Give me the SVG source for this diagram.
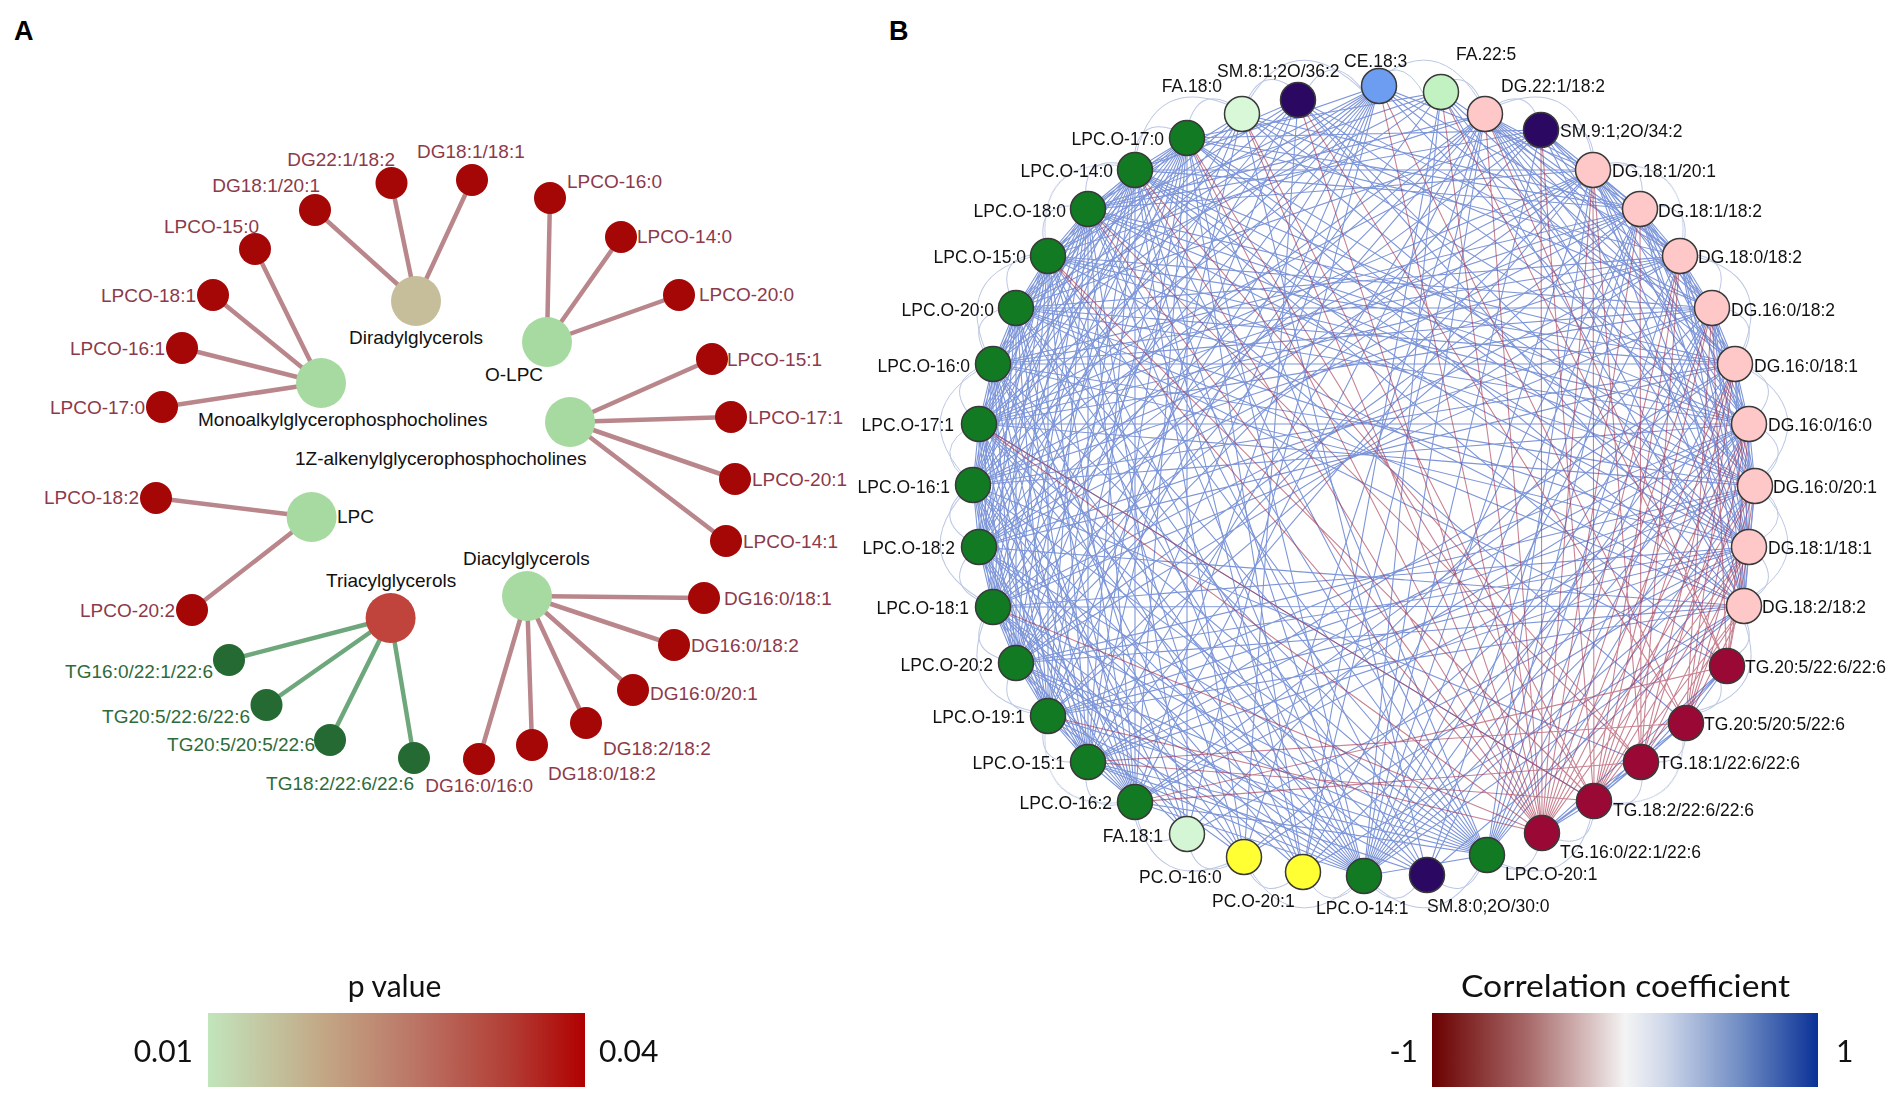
<svg xmlns="http://www.w3.org/2000/svg" xmlns:xlink="http://www.w3.org/1999/xlink" width="1901" height="1105" viewBox="0 0 1901 1105">
<style>
.t{font-family:"Liberation Sans",Arial,sans-serif}
.la{font-size:19px}
.lb{font-size:17.5px;fill:#111}
.lr{fill:#8c3a4a}.lg{fill:#2e6b3a}.lk{fill:#111}
.lead{font-family:Lato,"Open Sans",sans-serif;font-size:30px;fill:#111}
.pan{font-family:"Liberation Sans",Arial,sans-serif;font-size:27px;font-weight:bold;fill:#000}
.hub{fill:#a6daa0}.lf{fill:#a50606}.lt{fill:#256a32}
.ea{stroke:#b9878b;stroke-width:4.5}
.eg{stroke:#6ea77b;stroke-width:4.5}
.eb{stroke:#2f56c2;stroke-width:1.1;opacity:.62}
.er{stroke:#a3304a;stroke-width:1.1;opacity:.6}
.ec{stroke:#8fa2d0;stroke-width:1;opacity:.6}
.nb{stroke:#3a3a3a;stroke-width:1.5}
.g{fill:#117a22}.p{fill:#ffc8c8}.r{fill:#9a0836}.s{fill:#2b0862}.y{fill:#ffff33}
</style>
<defs>
<linearGradient id="gp" x1="0" x2="1" y1="0" y2="0">
<stop offset="0" stop-color="#c2e5bc"/><stop offset="0.3" stop-color="#c3a886"/><stop offset="0.55" stop-color="#bb7565"/><stop offset="0.8" stop-color="#b23d35"/><stop offset="1" stop-color="#b00000"/>
</linearGradient>
<linearGradient id="gc" x1="0" x2="1" y1="0" y2="0">
<stop offset="0" stop-color="#6b0000"/><stop offset="0.25" stop-color="#a86a6a"/><stop offset="0.42" stop-color="#dcc6c6"/><stop offset="0.5" stop-color="#f4f4f4"/><stop offset="0.6" stop-color="#d0d8ea"/><stop offset="0.8" stop-color="#6f8cc4"/><stop offset="1" stop-color="#0a3196"/>
</linearGradient>
<path id="a1" d="M1364 92Q1398.5 45.4 1425.3 96.8"/>
<path id="a2" d="M1364 92Q1437.5 19.8 1485.1 111.2"/>
</defs>
<rect width="1901" height="1105" fill="#fff"/>
<text class="pan" x="14" y="40">A</text>
<text class="pan" x="889" y="40">B</text>

<!-- Panel A connectors -->
<g id="connectors-A">
<path class="ea" d="M321 383L255 249M321 383L213 295M321 383L182 348M321 383L162 407M416 301L315 210M416 301L391.5 183M416 301L472 180M547 342L550 198M547 342L621 237M547 342L679 295M570 422L712 359M570 422L731 417M570 422L735 479M570 422L726 541M311.6 517L156 498M311.6 517L192 610M527 596L704 598M527 596L674 645M527 596L633 690M527 596L586 723M527 596L532 745M527 596L479 759"/>
<path class="eg" d="M390.6 618L229 660M390.6 618L266.5 705M390.6 618L330 740M390.6 618L414 758"/>
</g>

<!-- Panel A nodes -->
<g id="a-diradylglycerols"><circle cx="416" cy="301" r="25" fill="#c6bd9a"/><text class="t la lk" x="416" y="344" text-anchor="middle">Diradylglycerols</text></g>
<g id="a-monoalkyl"><circle class="hub" cx="321" cy="383" r="25"/><text class="t la lk" x="198" y="426">Monoalkylglycerophosphocholines</text></g>
<g id="a-olpc"><circle class="hub" cx="547" cy="342" r="25"/><text class="t la lk" x="485" y="381">O-LPC</text></g>
<g id="a-1z"><circle class="hub" cx="570" cy="422" r="25"/><text class="t la lk" x="295" y="465">1Z-alkenylglycerophosphocholines</text></g>
<g id="a-lpc"><circle class="hub" cx="311.6" cy="517" r="25"/><text class="t la lk" x="337" y="523">LPC</text></g>
<g id="a-triacylglycerols"><circle cx="390.6" cy="618" r="25" fill="#c0443b"/><text class="t la lk" x="326" y="587">Triacylglycerols</text></g>
<g id="a-diacylglycerols"><circle class="hub" cx="527" cy="596" r="25"/><text class="t la lk" x="463" y="565">Diacylglycerols</text></g>

<g id="a-dg18-1-20-1"><circle class="lf" cx="315" cy="210" r="16"/><text class="t la lr" x="320" y="192" text-anchor="end">DG18:1/20:1</text></g>
<g id="a-dg22-1-18-2"><circle class="lf" cx="391.5" cy="183" r="16"/><text class="t la lr" x="395" y="166" text-anchor="end">DG22:1/18:2</text></g>
<g id="a-dg18-1-18-1"><circle class="lf" cx="472" cy="180" r="16"/><text class="t la lr" x="417" y="158">DG18:1/18:1</text></g>
<g id="a-lpco-15-0"><circle class="lf" cx="255" cy="249" r="16"/><text class="t la lr" x="259" y="233" text-anchor="end">LPCO-15:0</text></g>
<g id="a-lpco-18-1"><circle class="lf" cx="213" cy="295" r="16"/><text class="t la lr" x="196" y="302" text-anchor="end">LPCO-18:1</text></g>
<g id="a-lpco-16-1"><circle class="lf" cx="182" cy="348" r="16"/><text class="t la lr" x="165" y="355" text-anchor="end">LPCO-16:1</text></g>
<g id="a-lpco-17-0"><circle class="lf" cx="162" cy="407" r="16"/><text class="t la lr" x="145" y="414" text-anchor="end">LPCO-17:0</text></g>
<g id="a-lpco-16-0"><circle class="lf" cx="550" cy="198" r="16"/><text class="t la lr" x="567" y="188">LPCO-16:0</text></g>
<g id="a-lpco-14-0"><circle class="lf" cx="621" cy="237" r="16"/><text class="t la lr" x="637" y="243">LPCO-14:0</text></g>
<g id="a-lpco-20-0"><circle class="lf" cx="679" cy="295" r="16"/><text class="t la lr" x="699" y="301">LPCO-20:0</text></g>
<g id="a-lpco-15-1"><circle class="lf" cx="712" cy="359" r="16"/><text class="t la lr" x="727" y="366">LPCO-15:1</text></g>
<g id="a-lpco-17-1"><circle class="lf" cx="731" cy="417" r="16"/><text class="t la lr" x="748" y="424">LPCO-17:1</text></g>
<g id="a-lpco-20-1"><circle class="lf" cx="735" cy="479" r="16"/><text class="t la lr" x="752" y="486">LPCO-20:1</text></g>
<g id="a-lpco-14-1"><circle class="lf" cx="726" cy="541" r="16"/><text class="t la lr" x="743" y="548">LPCO-14:1</text></g>
<g id="a-lpco-18-2"><circle class="lf" cx="156" cy="498" r="16"/><text class="t la lr" x="139" y="504" text-anchor="end">LPCO-18:2</text></g>
<g id="a-lpco-20-2"><circle class="lf" cx="192" cy="610" r="16"/><text class="t la lr" x="175" y="617" text-anchor="end">LPCO-20:2</text></g>
<g id="a-tg16-0-22-1-22-6"><circle class="lt" cx="229" cy="660" r="16"/><text class="t la lg" x="213" y="678" text-anchor="end">TG16:0/22:1/22:6</text></g>
<g id="a-tg20-5-22-6-22-6"><circle class="lt" cx="266.5" cy="705" r="16"/><text class="t la lg" x="250" y="723" text-anchor="end">TG20:5/22:6/22:6</text></g>
<g id="a-tg20-5-20-5-22-6"><circle class="lt" cx="330" cy="740" r="16"/><text class="t la lg" x="315" y="751" text-anchor="end">TG20:5/20:5/22:6</text></g>
<g id="a-tg18-2-22-6-22-6"><circle class="lt" cx="414" cy="758" r="16"/><text class="t la lg" x="414" y="790" text-anchor="end">TG18:2/22:6/22:6</text></g>
<g id="a-dg16-0-16-0"><circle class="lf" cx="479" cy="759" r="16"/><text class="t la lr" x="533" y="792" text-anchor="end">DG16:0/16:0</text></g>
<g id="a-dg18-0-18-2"><circle class="lf" cx="532" cy="745" r="16"/><text class="t la lr" x="548" y="780">DG18:0/18:2</text></g>
<g id="a-dg18-2-18-2"><circle class="lf" cx="586" cy="723" r="16"/><text class="t la lr" x="603" y="755">DG18:2/18:2</text></g>
<g id="a-dg16-0-20-1"><circle class="lf" cx="633" cy="690" r="16"/><text class="t la lr" x="650" y="700">DG16:0/20:1</text></g>
<g id="a-dg16-0-18-2"><circle class="lf" cx="674" cy="645" r="16"/><text class="t la lr" x="691" y="652">DG16:0/18:2</text></g>
<g id="a-dg16-0-18-1"><circle class="lf" cx="704" cy="598" r="16"/><text class="t la lr" x="724" y="605">DG16:0/18:1</text></g>

<!-- Panel B connectors -->
<g id="connectors-B" fill="none">
<g class="ec">
<use href="#a1"/><use href="#a1" transform="rotate(9 1364 484)"/><use href="#a1" transform="rotate(18 1364 484)"/><use href="#a1" transform="rotate(27 1364 484)"/><use href="#a1" transform="rotate(36 1364 484)"/><use href="#a1" transform="rotate(45 1364 484)"/><use href="#a1" transform="rotate(54 1364 484)"/><use href="#a1" transform="rotate(63 1364 484)"/><use href="#a1" transform="rotate(72 1364 484)"/><use href="#a1" transform="rotate(81 1364 484)"/><use href="#a1" transform="rotate(90 1364 484)"/><use href="#a1" transform="rotate(99 1364 484)"/><use href="#a1" transform="rotate(108 1364 484)"/><use href="#a1" transform="rotate(117 1364 484)"/><use href="#a1" transform="rotate(126 1364 484)"/><use href="#a1" transform="rotate(135 1364 484)"/><use href="#a1" transform="rotate(144 1364 484)"/><use href="#a1" transform="rotate(153 1364 484)"/><use href="#a1" transform="rotate(162 1364 484)"/><use href="#a1" transform="rotate(171 1364 484)"/><use href="#a1" transform="rotate(180 1364 484)"/><use href="#a1" transform="rotate(189 1364 484)"/><use href="#a1" transform="rotate(198 1364 484)"/><use href="#a1" transform="rotate(207 1364 484)"/><use href="#a1" transform="rotate(216 1364 484)"/><use href="#a1" transform="rotate(225 1364 484)"/><use href="#a1" transform="rotate(234 1364 484)"/><use href="#a1" transform="rotate(243 1364 484)"/><use href="#a1" transform="rotate(252 1364 484)"/><use href="#a1" transform="rotate(261 1364 484)"/><use href="#a1" transform="rotate(270 1364 484)"/><use href="#a1" transform="rotate(279 1364 484)"/><use href="#a1" transform="rotate(288 1364 484)"/><use href="#a1" transform="rotate(297 1364 484)"/><use href="#a1" transform="rotate(306 1364 484)"/><use href="#a1" transform="rotate(315 1364 484)"/><use href="#a1" transform="rotate(324 1364 484)"/><use href="#a1" transform="rotate(333 1364 484)"/><use href="#a1" transform="rotate(342 1364 484)"/><use href="#a1" transform="rotate(351 1364 484)"/>
<use href="#a2"/><use href="#a2" transform="rotate(18 1364 484)"/><use href="#a2" transform="rotate(36 1364 484)"/><use href="#a2" transform="rotate(54 1364 484)"/><use href="#a2" transform="rotate(72 1364 484)"/><use href="#a2" transform="rotate(90 1364 484)"/><use href="#a2" transform="rotate(108 1364 484)"/><use href="#a2" transform="rotate(126 1364 484)"/><use href="#a2" transform="rotate(144 1364 484)"/><use href="#a2" transform="rotate(162 1364 484)"/><use href="#a2" transform="rotate(180 1364 484)"/><use href="#a2" transform="rotate(198 1364 484)"/><use href="#a2" transform="rotate(216 1364 484)"/><use href="#a2" transform="rotate(234 1364 484)"/><use href="#a2" transform="rotate(252 1364 484)"/><use href="#a2" transform="rotate(270 1364 484)"/><use href="#a2" transform="rotate(288 1364 484)"/><use href="#a2" transform="rotate(306 1364 484)"/><use href="#a2" transform="rotate(324 1364 484)"/><use href="#a2" transform="rotate(342 1364 484)"/>
</g>
<g class="eb">
<path d="M1487 855L1364 876L1135 802L1088 762L1048 716L1016 663L993 607L979 547L973 485L979 424L993 364L1016 308L1048 256L1088 209L1135 170L1187 138Z"/>
<path d="M1487 855L1088 762L993 607L979 424L1048 256L1187 138L1135 802L1016 663L973 485L1016 308L1135 170L1364 876L1048 716L979 547L993 364L1088 209Z"/>
<path d="M1487 855L1016 663L993 364L1187 138L1048 716L979 424L1135 170L1088 762L973 485L1088 209L1135 802L979 547L1048 256L1364 876L993 607L1016 308Z"/>
<path d="M1487 855L979 547L1135 170L1016 663L1048 256L1088 762L993 364L1364 876L973 485L1187 138L993 607L1088 209L1048 716L1016 308L1135 802L979 424Z"/>
<path d="M1487 855L1135 802L1048 716L993 607L973 485L993 364L1048 256L1135 170ZM1364 876L1088 762L1016 663L979 547L979 424L1016 308L1088 209L1187 138Z"/>
<path d="M1487 855L993 607L1048 256L1135 802L973 485L1135 170L1048 716L993 364ZM1364 876L979 547L1088 209L1088 762L979 424L1187 138L1016 663L1016 308Z"/>
<path d="M1487 855L1048 716L973 485L1048 256ZM1364 876L1016 663L979 424L1088 209ZM1135 802L993 607L993 364L1135 170ZM1088 762L979 547L1016 308L1187 138Z"/>
<path d="M1487 855L973 485M1364 876L979 424M1135 802L993 364M1088 762L1016 308M1048 716L1048 256M1016 663L1088 209M993 607L1135 170M979 547L1187 138"/>
<path d="M1485 114L1593 170L1640 209L1680 256L1712 308L1735 364L1749 424L1755 486L1749 547L1744 606Z"/>
<path d="M1485 114L1680 256L1749 424L1744 606L1640 209L1735 364L1749 547L1593 170L1712 308L1755 486Z"/>
<path d="M1485 114L1640 209L1712 308L1749 424L1749 547ZM1593 170L1680 256L1735 364L1755 486L1744 606Z"/>
<path d="M1485 114L1712 308L1749 547L1640 209L1749 424ZM1593 170L1735 364L1744 606L1680 256L1755 486Z"/>
<path d="M1485 114L1735 364M1593 170L1749 424M1640 209L1755 486M1680 256L1749 547M1712 308L1744 606"/>
<path d="M1135 802L1485 114L1088 762L1593 170L1048 716L1640 209L1016 663L1680 256L993 607L1712 308L979 547L1735 364L973 485L1749 424L979 424L1755 486L993 364L1749 547L1016 308L1744 606L1048 256L1485 114L1088 209L1593 170L1135 170L1640 209L1187 138L1680 256"/>
<path d="M1135 802L1735 364L1088 762L1749 424L1048 716L1755 486L1016 663L1749 547L993 607L1744 606L979 547L1485 114L973 485L1593 170L979 424L1640 209L993 364L1680 256L1016 308L1712 308L1048 256L1735 364L1088 209L1749 424L1135 170L1755 486L1187 138L1749 547"/>
<path d="M1187 138L1744 606L1135 170L1749 547L1088 209L1755 486L1048 256L1749 424L1016 308L1735 364L993 364L1712 308L979 424L1680 256L973 485L1640 209L979 547L1593 170L993 607L1485 114L1016 663L1744 606L1048 716L1749 547L1088 762L1755 486L1135 802L1749 424"/>
<path d="M1485 114L1364 876L1593 170L1487 855L1640 209L1364 876L1680 256L1487 855L1712 308L1364 876L1735 364L1487 855L1749 424L1364 876L1755 486L1487 855L1749 547L1364 876L1744 606"/>
<path d="M1135 802L1379 86L1048 716L1298 100L993 607L1379 86L973 485L1298 100L993 364L1379 86L1048 256L1298 100L1135 170L1379 86L1088 762L1242 114L1016 663L1379 86L979 547L1242 114L979 424L1379 86L1016 308L1242 114L1088 209"/>
<path d="M1364 876L1441 92L1016 663L1541 130L979 424L1441 92L1088 209L1541 130L1187 138L1441 92L1016 308L1541 130L979 547"/>
<path d="M1593 170L1379 86L1680 256L1441 92L1735 364L1379 86L1755 486L1441 92L1744 606L1298 100L1749 547L1242 114L1749 424L1298 100L1712 308L1242 114L1640 209"/>
<path d="M1541 130L1640 209M1541 130L1712 308M1541 130L1749 424M1541 130L1749 547M1541 130L1680 256"/>
<path d="M1048 716L1244 857L993 607L1303 872L973 485L1244 857L993 364L1303 872L1048 256L1244 857L1135 170L1303 872L1187 138L1187 834L1088 209L1427 875L1016 308L1187 834L979 424L1427 875L979 547L1187 834L1016 663L1427 875L1088 762"/>
<path d="M1427 875L1640 209L1303 872L1749 424L1244 857L1749 547L1187 834L1712 308L1427 875L1744 606L1303 872L1485 114L1244 857"/>
<path d="M1298 100L1244 857M1242 114L1427 875M1441 92L1303 872M1379 86L1187 834M1541 130L1364 876"/>
<path d="M1727 666L1686 723L1641 762L1594 801L1542 833ZM1727 666L1641 762L1542 833L1686 723L1594 801Z"/>
<path d="M1727 666L1016 308M1686 723L1088 209M1641 762L973 485M1727 666L1135 170M1594 801L979 424"/>
</g>
<g class="er">
<path d="M993 607L1542 833L979 424L1594 801L1048 256L1542 833L1088 209L1641 762L1135 170L1542 833L1187 138L1594 801L1242 114L1542 833L1298 100L1686 723L1379 86L1542 833L1441 92L1727 666L1485 114L1542 833L1541 130L1594 801L1593 170L1542 833L1640 209L1641 762L1680 256L1542 833L1712 308L1686 723L1735 364L1542 833L1749 424L1727 666L1755 486L1542 833L1749 547L1594 801L1744 606L1641 762L1749 547L1686 723L1755 486L1594 801L1749 424L1641 762L1735 364L1594 801L1712 308"/>
<path d="M1135 802L1641 762M1088 762L1594 801M1135 802L1727 666M1088 762L1686 723M1048 716L1542 833"/>
<path d="M1749 424L1686 723L1744 606M1727 666L1749 547M1727 666L1712 308M1641 762L1593 170M1594 801L1680 256"/>
</g>
</g>

<!-- Panel B nodes -->
<g id="b-ce-18-3"><circle class="nb" cx="1379" cy="86" r="17.5" fill="#6c9df0"/><text class="t lb" x="1344" y="67">CE.18:3</text></g>
<g id="b-fa-22-5"><circle class="nb" cx="1441" cy="92" r="17.5" fill="#c2f2c2"/><text class="t lb" x="1456" y="60">FA.22:5</text></g>
<g id="b-dg-22-1-18-2"><circle class="nb p" cx="1485" cy="114" r="17.5"/><text class="t lb" x="1501" y="92">DG.22:1/18:2</text></g>
<g id="b-sm-9-1-2o-34-2"><circle class="nb s" cx="1541" cy="130" r="17.5"/><text class="t lb" x="1560" y="137">SM.9:1;2O/34:2</text></g>
<g id="b-dg-18-1-20-1"><circle class="nb p" cx="1593" cy="170" r="17.5"/><text class="t lb" x="1612" y="177">DG.18:1/20:1</text></g>
<g id="b-dg-18-1-18-2"><circle class="nb p" cx="1640" cy="209" r="17.5"/><text class="t lb" x="1658" y="217">DG.18:1/18:2</text></g>
<g id="b-dg-18-0-18-2"><circle class="nb p" cx="1680" cy="256" r="17.5"/><text class="t lb" x="1698" y="263">DG.18:0/18:2</text></g>
<g id="b-dg-16-0-18-2"><circle class="nb p" cx="1712" cy="308" r="17.5"/><text class="t lb" x="1731" y="316">DG.16:0/18:2</text></g>
<g id="b-dg-16-0-18-1"><circle class="nb p" cx="1735" cy="364" r="17.5"/><text class="t lb" x="1754" y="372">DG.16:0/18:1</text></g>
<g id="b-dg-16-0-16-0"><circle class="nb p" cx="1749" cy="424" r="17.5"/><text class="t lb" x="1768" y="431">DG.16:0/16:0</text></g>
<g id="b-dg-16-0-20-1"><circle class="nb p" cx="1755" cy="486" r="17.5"/><text class="t lb" x="1773" y="493">DG.16:0/20:1</text></g>
<g id="b-dg-18-1-18-1"><circle class="nb p" cx="1749" cy="547" r="17.5"/><text class="t lb" x="1768" y="554">DG.18:1/18:1</text></g>
<g id="b-dg-18-2-18-2"><circle class="nb p" cx="1744" cy="606" r="17.5"/><text class="t lb" x="1762" y="613">DG.18:2/18:2</text></g>
<g id="b-tg-20-5-22-6-22-6"><circle class="nb r" cx="1727" cy="666" r="17.5"/><text class="t lb" x="1745" y="673">TG.20:5/22:6/22:6</text></g>
<g id="b-tg-20-5-20-5-22-6"><circle class="nb r" cx="1686" cy="723" r="17.5"/><text class="t lb" x="1704" y="730">TG.20:5/20:5/22:6</text></g>
<g id="b-tg-18-1-22-6-22-6"><circle class="nb r" cx="1641" cy="762" r="17.5"/><text class="t lb" x="1659" y="769">TG.18:1/22:6/22:6</text></g>
<g id="b-tg-18-2-22-6-22-6"><circle class="nb r" cx="1594" cy="801" r="17.5"/><text class="t lb" x="1613" y="816">TG.18:2/22:6/22:6</text></g>
<g id="b-tg-16-0-22-1-22-6"><circle class="nb r" cx="1542" cy="833" r="17.5"/><text class="t lb" x="1560" y="858">TG.16:0/22:1/22:6</text></g>
<g id="b-lpc-o-20-1"><circle class="nb g" cx="1487" cy="855" r="17.5"/><text class="t lb" x="1505" y="880">LPC.O-20:1</text></g>
<g id="b-sm-8-0-2o-30-0"><circle class="nb s" cx="1427" cy="875" r="17.5"/><text class="t lb" x="1427" y="912">SM.8:0;2O/30:0</text></g>
<g id="b-lpc-o-14-1"><circle class="nb g" cx="1364" cy="876" r="17.5"/><text class="t lb" x="1316" y="914">LPC.O-14:1</text></g>
<g id="b-pc-o-20-1"><circle class="nb y" cx="1303" cy="872" r="17.5"/><text class="t lb" x="1212" y="907">PC.O-20:1</text></g>
<g id="b-pc-o-16-0"><circle class="nb y" cx="1244" cy="857" r="17.5"/><text class="t lb" x="1139" y="883">PC.O-16:0</text></g>
<g id="b-fa-18-1"><circle class="nb" cx="1187" cy="834" r="17.5" fill="#d4f6d4"/><text class="t lb" x="1163" y="842" text-anchor="end">FA.18:1</text></g>
<g id="b-lpc-o-16-2"><circle class="nb g" cx="1135" cy="802" r="17.5"/><text class="t lb" x="1112" y="809" text-anchor="end">LPC.O-16:2</text></g>
<g id="b-lpc-o-15-1"><circle class="nb g" cx="1088" cy="762" r="17.5"/><text class="t lb" x="1065" y="769" text-anchor="end">LPC.O-15:1</text></g>
<g id="b-lpc-o-19-1"><circle class="nb g" cx="1048" cy="716" r="17.5"/><text class="t lb" x="1025" y="723" text-anchor="end">LPC.O-19:1</text></g>
<g id="b-lpc-o-20-2"><circle class="nb g" cx="1016" cy="663" r="17.5"/><text class="t lb" x="993" y="671" text-anchor="end">LPC.O-20:2</text></g>
<g id="b-lpc-o-18-1"><circle class="nb g" cx="993" cy="607" r="17.5"/><text class="t lb" x="969" y="614" text-anchor="end">LPC.O-18:1</text></g>
<g id="b-lpc-o-18-2"><circle class="nb g" cx="979" cy="547" r="17.5"/><text class="t lb" x="955" y="554" text-anchor="end">LPC.O-18:2</text></g>
<g id="b-lpc-o-16-1"><circle class="nb g" cx="973" cy="485" r="17.5"/><text class="t lb" x="950" y="493" text-anchor="end">LPC.O-16:1</text></g>
<g id="b-lpc-o-17-1"><circle class="nb g" cx="979" cy="424" r="17.5"/><text class="t lb" x="954" y="431" text-anchor="end">LPC.O-17:1</text></g>
<g id="b-lpc-o-16-0"><circle class="nb g" cx="993" cy="364" r="17.5"/><text class="t lb" x="970" y="372" text-anchor="end">LPC.O-16:0</text></g>
<g id="b-lpc-o-20-0"><circle class="nb g" cx="1016" cy="308" r="17.5"/><text class="t lb" x="994" y="316" text-anchor="end">LPC.O-20:0</text></g>
<g id="b-lpc-o-15-0"><circle class="nb g" cx="1048" cy="256" r="17.5"/><text class="t lb" x="1026" y="263" text-anchor="end">LPC.O-15:0</text></g>
<g id="b-lpc-o-18-0"><circle class="nb g" cx="1088" cy="209" r="17.5"/><text class="t lb" x="1066" y="217" text-anchor="end">LPC.O-18:0</text></g>
<g id="b-lpc-o-14-0"><circle class="nb g" cx="1135" cy="170" r="17.5"/><text class="t lb" x="1113" y="177" text-anchor="end">LPC.O-14:0</text></g>
<g id="b-lpc-o-17-0"><circle class="nb g" cx="1187" cy="138" r="17.5"/><text class="t lb" x="1164" y="145" text-anchor="end">LPC.O-17:0</text></g>
<g id="b-fa-18-0"><circle class="nb" cx="1242" cy="114" r="17.5" fill="#d8f8d8"/><text class="t lb" x="1222" y="92" text-anchor="end">FA.18:0</text></g>
<g id="b-sm-8-1-2o-36-2"><circle class="nb s" cx="1298" cy="100" r="17.5"/><text class="t lb" x="1217" y="77">SM.8:1;2O/36:2</text></g>

<!-- Legends -->
<g id="legend-p">
<text class="lead" x="394.5" y="997" text-anchor="middle">p value</text>
<rect x="208" y="1013" width="377" height="74" fill="url(#gp)"/>
<text class="lead" x="193" y="1062" text-anchor="end">0.01</text>
<text class="lead" x="599" y="1062">0.04</text>
</g>
<g id="legend-corr">
<text class="lead" x="1625.5" y="997" text-anchor="middle" textLength="329" lengthAdjust="spacingAndGlyphs">Correlation coefficient</text>
<rect x="1432" y="1013" width="386" height="74" fill="url(#gc)"/>
<text class="lead" x="1418" y="1062" text-anchor="end">-1</text>
<text class="lead" x="1836" y="1062">1</text>
</g>
</svg>
